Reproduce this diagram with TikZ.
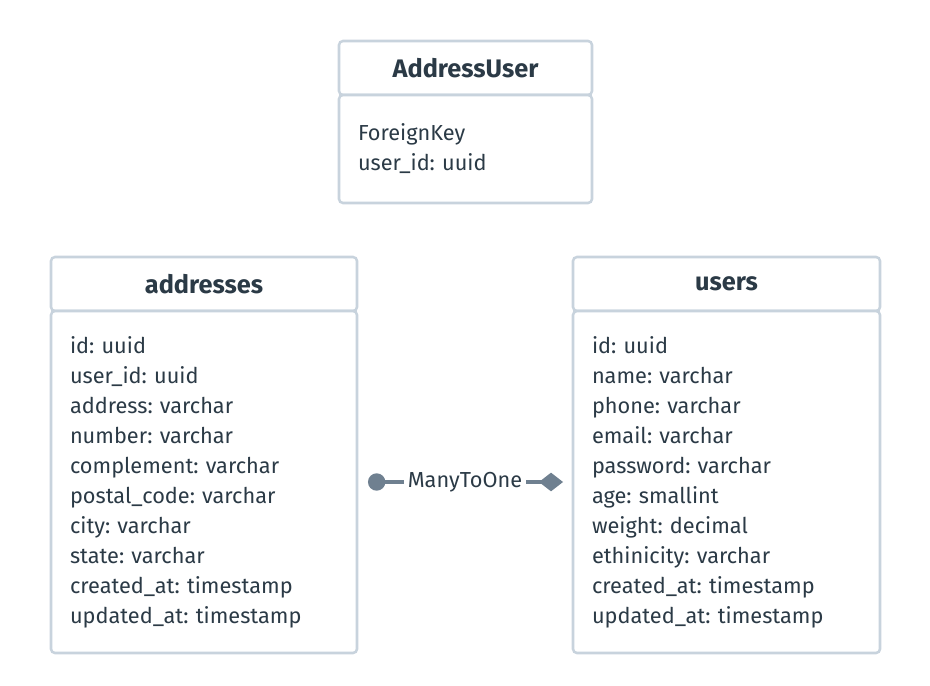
\documentclass[tikz,border=0pt]{standalone}
\usepackage{fontspec}
\setmainfont{Fira Sans}
\usetikzlibrary{arrows.meta, positioning}
\definecolor{boxline}{HTML}{C8D3DD}
\definecolor{inkdark}{HTML}{2B3A46}
\definecolor{relgray}{HTML}{6F8090}
\tikzset{>={Stealth[scale=1]}}
\tikzset{
  tablehead/.style={draw=boxline, line width=1.9pt, rounded corners=3pt, fill=white, outer sep=0pt,
    text=inkdark, font=\fontsize{19}{22}\selectfont\bfseries, minimum height=54*0.75pt},
  tablebody/.style={draw=boxline, line width=1.9pt, rounded corners=3pt, fill=white, outer sep=0pt,
    text=inkdark, font=\fontsize{16.3}{22.5}\selectfont, align=left, inner xsep=19*0.75pt},
  relline/.style={draw=relgray, line width=3pt},
  rellabel/.style={fill=white, text=inkdark, font=\fontsize{16.3}{18}\selectfont, inner xsep=3pt}
}
\begin{document}
\frenchspacing
\begin{tikzpicture}[x=0.75pt, y=-0.75pt]
  \useasboundingbox (0,0) rectangle (930,685);

  % AddressUser
  \node[tablehead, minimum width=253*0.75pt] (auhead) at (465.5,68) {AddressUser};
  \node[tablebody, minimum width=253*0.75pt, minimum height=108*0.75pt,
        text width=215*0.75pt, anchor=north] (aubody) at (auhead.south)
        {ForeignKey\\user\_id: uuid};

  % addresses
  \node[tablehead, minimum width=306*0.75pt] (addrhead) at (204,284) {addresses};
  \node[tablebody, minimum width=306*0.75pt, minimum height=342*0.75pt,
        text width=268*0.75pt, anchor=north] (addrbody) at (addrhead.south)
        {id: uuid\\user\_id: uuid\\address: varchar\\number: varchar\\complement: varchar\\
         postal\_code: varchar\\city: varchar\\state: varchar\\created\_at: timestamp\\
         updated\_at: timestamp};

  % users
  \node[tablehead, minimum width=307*0.75pt] (usershead) at (726.5,284) {users};
  \node[tablebody, minimum width=307*0.75pt, minimum height=342*0.75pt,
        text width=269*0.75pt, anchor=north] (usersbody) at (usershead.south)
        {id: uuid\\name: varchar\\phone: varchar\\email: varchar\\password: varchar\\
         age: smallint\\weight: decimal\\ethinicity: varchar\\created\_at: timestamp\\
         updated\_at: timestamp};

  % relation
  \draw[relline, {Circle[length=13pt, fill=relgray]}-{Diamond[length=18pt, width=14pt, fill=relgray]},
        shorten <=11*0.75pt, shorten >=10*0.75pt]
    (addrbody.east |- 0,482) -- node[rellabel] (rel) {ManyToOne} (usersbody.west |- 0,482);
\end{tikzpicture}
\end{document}
